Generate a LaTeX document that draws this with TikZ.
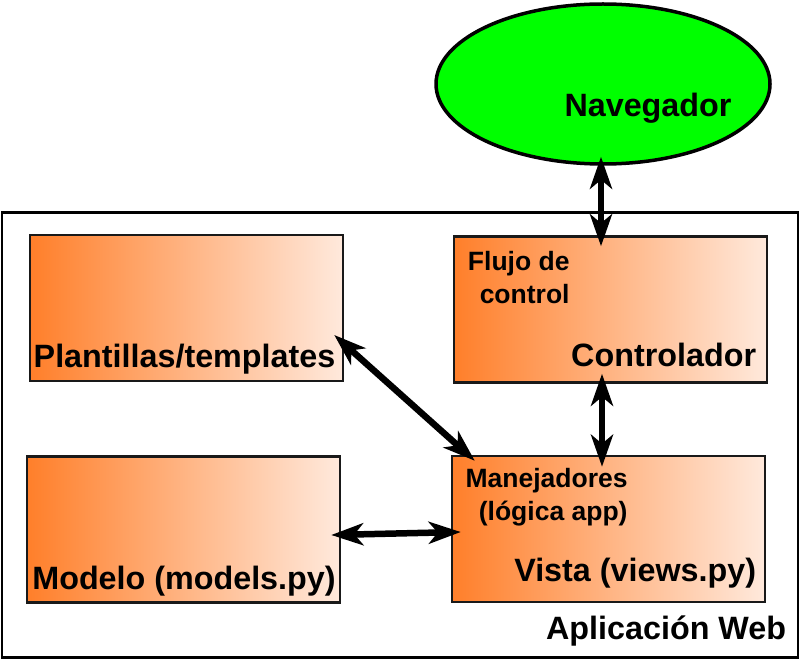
\documentclass[tikz,border=0pt]{standalone}
\usepackage{fontspec}
\setmainfont{Liberation Sans}
\usetikzlibrary{shapes.geometric,arrows.meta,calc}
\definecolor{naranja}{HTML}{FF7F2A}
\definecolor{crema}{HTML}{FFE9DC}
\definecolor{verde}{HTML}{00FF00}
\tikzset{
	caja/.style={draw=black!90,line width=2.5pt,minimum width=313pt,minimum height=146pt,inner sep=0pt,left color=naranja,right color=crema},
	grande/.style={font=\fontsize{32.3}{34}\selectfont\bfseries,inner sep=0pt},
	chica/.style={font=\fontsize{26.5}{33}\selectfont\bfseries,align=right,inner sep=0pt},
	flecha/.style={line width=6.5pt,{Stealth[length=32pt,width=22pt,inset=9pt]}-{Stealth[length=32pt,width=22pt,inset=9pt]}}
}
\begin{document}
\begin{tikzpicture}[x=1pt,y=-1pt]
		\useasboundingbox (0,0) rectangle (800,660);
		\node [ellipse,draw,line width=3.5pt,fill=verde,minimum width=334pt,minimum height=160pt,inner sep=0pt] (nav) at (603,84) {};
		\node [grande,anchor=base] (navtxt) at ($(nav.center)+(45,33)$) {Navegador};
		\node [draw,line width=2.5pt,minimum width=796pt,minimum height=445pt,inner sep=0pt] (app) at (400,435) {};
		\node [grande,anchor=base east] (apptxt) at ($(app.south east)+(-13,-19)$) {Aplicación Web};
		% cajas
		\node [caja] (tpl) at (186.5,308) {};
		\node [caja] (ctrl) at (610.5,309.5) {};
		\node [caja] (mod) at (183.5,529.5) {};
		\node [caja] (vista) at (608.5,529) {};
		\node [grande,anchor=base] (tpltxt) at ($(tpl.south)+(-2,-15)$) {Plantillas/templates};
		\node [grande,anchor=base] (modtxt) at ($(mod.south)+(0.5,-14.5)$) {Modelo (models.py)};
		\node [grande,anchor=base east] (ctrltxt) at ($(ctrl.south east)+(-12,-17)$) {Controlador};
		\node [chica,anchor=base east] (flujo) at ($(ctrl.north west)+(117,68)$) {Flujo de\\control};
		\node [grande,anchor=base east] (vistatxt) at ($(vista.south east)+(-10,-22)$) {Vista (views.py)};
		\node [chica,anchor=base east] (manej) at ($(vista.north west)+(177,66)$) {Manejadores\\(lógica app)};
		% flechas
		\draw [flecha] ($(nav.south)+(-2,-9)$) -- ($(nav.south |- ctrl.north)+(-2,11)$);
		\draw [flecha] ($(nav.south |- ctrl.south)+(-1,-10)$) -- ($(nav.south |- vista.north)+(-1,12)$);
		\draw [flecha] ($(tpl.east)+(-10,27)$) -- ($(vista.north west)+(24,6)$);
		\draw [flecha] ($(mod.east)+(-10,5.5)$) -- ($(vista.west)+(10,3)$);
	\end{tikzpicture}
\end{document}
